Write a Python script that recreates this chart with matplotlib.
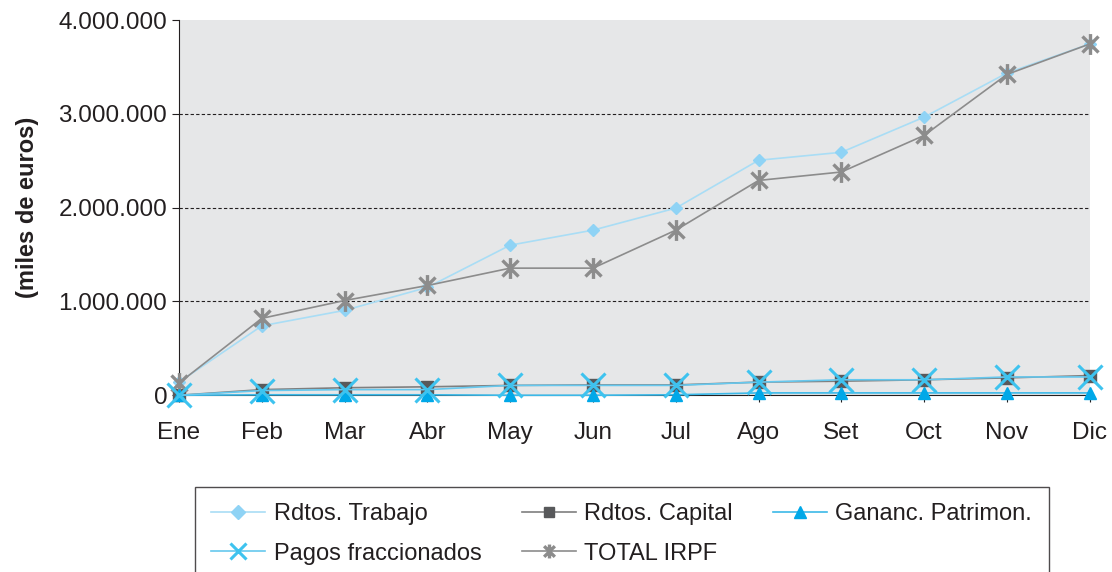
import numpy as np
import matplotlib.pyplot as plt
from matplotlib.path import Path
from matplotlib.ticker import FuncFormatter

plt.rcParams['font.family'] = ['Liberation Sans', 'DejaVu Sans']

meses = ['Ene', 'Feb', 'Mar', 'Abr', 'May', 'Jun', 'Jul', 'Ago', 'Set', 'Oct', 'Nov', 'Dic']

trabajo = [140000, 740000, 905000, 1150000, 1600000, 1760000, 1995000, 2505000, 2590000, 2965000, 3435000, 3745000]
capital = [0, 60000, 80000, 90000, 105000, 110000, 110000, 140000, 150000, 165000, 185000, 210000]
ganancias = [0, 5000, 5000, 5000, 0, 0, 5000, 25000, 25000, 25000, 25000, 25000]
pagos = [0, 50000, 60000, 60000, 105000, 105000, 105000, 140000, 165000, 165000, 195000, 195000]
total = [130000, 820000, 1010000, 1170000, 1355000, 1355000, 1760000, 2290000, 2380000, 2770000, 3420000, 3745000]

# asterisco tipo Excel: X con barra vertical
asterisco = Path([(-1, -1), (1, 1), (-1, 1), (1, -1), (0, -1.3), (0, 1.3)],
                 [Path.MOVETO, Path.LINETO, Path.MOVETO, Path.LINETO, Path.MOVETO, Path.LINETO])

fig = plt.figure(figsize=(11.12, 5.72), dpi=100)
ax = fig.add_axes([0.161, 0.309, 0.819, 0.656])
ax.set_facecolor('#e6e7e8')

x = np.arange(len(meses))
l1, = ax.plot(x, trabajo, color='#a9ddf5', lw=1.2, marker='D', ms=6, mfc='#8fd3f5', mec='#8fd3f5',
              label='Rdtos. Trabajo', zorder=3)
l2, = ax.plot(x, capital, color='#7f7f7f', lw=1.2, marker='s', ms=8, mfc='#58595b', mec='#58595b',
              label='Rdtos. Capital', zorder=3)
l3, = ax.plot(x, ganancias, color='#3cb9e8', lw=1.2, marker='^', ms=9, mfc='#00a8e8', mec='#00a8e8',
              label='Gananc. Patrimon.', zorder=4)
l4, = ax.plot(x, pagos, color='#66c8ee', lw=1.2, marker='x', ms=17, mew=2.2, mec='#3ec3ef',
              label='Pagos fraccionados', zorder=5)
l5, = ax.plot(x, total, color='#8c8c8c', lw=1.2, marker=asterisco, ms=15, mew=2.4, mec='#8c8c8c',
              label='TOTAL IRPF', zorder=3)

ax.set_xlim(0, len(meses) - 1)
ax.set_ylim(0, 4000000)
ax.set_xticks(x)
ax.set_xticklabels(meses)
ax.set_yticks([0, 1000000, 2000000, 3000000, 4000000])
ax.yaxis.set_major_formatter(FuncFormatter(lambda v, p: f'{int(v):,}'.replace(',', '.')))
ax.tick_params(labelsize=17.5, colors='#231f20', length=5)
ax.tick_params(axis='x', pad=14)
for v in [1000000, 2000000, 3000000]:
    ax.axhline(v, color='#231f20', lw=0.8, ls=(0, (3, 2)), zorder=1)
for s in ['top', 'right']:
    ax.spines[s].set_visible(False)
ax.spines['left'].set_color('#231f20')
ax.spines['bottom'].set_color('#231f20')
ax.set_ylabel('(miles de euros)', fontsize=17, fontweight='bold', labelpad=14, color='#231f20')

for t in ax.get_lines():
    t.set_clip_on(False)

# orden para que las filas queden como en el original (relleno por columnas)
handles = [l1, l4, l2, l5, l3]
leg = fig.legend(handles, [h.get_label() for h in handles], loc='upper left',
                 bbox_to_anchor=(0.175, 0.149), ncol=3, fontsize=17,
                 frameon=True, fancybox=False, edgecolor='#231f20', handlelength=2.3,
                 handletextpad=0.35, columnspacing=1.7, borderpad=0.7, labelspacing=0.73,
                 borderaxespad=0)
leg.get_frame().set_linewidth(1.0)
for t in leg.get_texts():
    t.set_color('#231f20')
for h, ms in zip(leg.legend_handles, [7, 12, 7, 10, 8]):
    h.set_markersize(ms)

fig.savefig('out.png', dpi=100)
